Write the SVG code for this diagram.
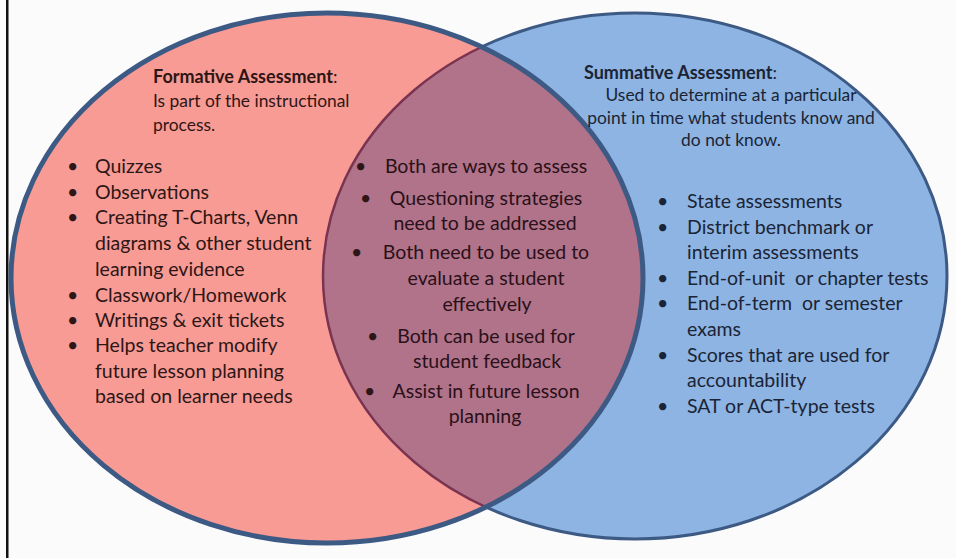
<svg xmlns="http://www.w3.org/2000/svg" width="956" height="558" viewBox="0 0 956 558">
<defs>
<style>
text{font-family:Lato,"Open Sans","Liberation Sans",sans-serif;font-size:19.5px}
.l{fill:#2e1616}
.c{fill:#2a1018;text-anchor:middle}
.r{fill:#1b2436}
.h{font-size:18px}
.d{font-size:17.4px}
.b{font-weight:bold}
.p{white-space:pre}
</style>
<clipPath id="clipR"><ellipse cx="635" cy="276" rx="312" ry="263"/></clipPath>
<clipPath id="clipL"><ellipse cx="327" cy="278" rx="316" ry="265"/></clipPath>
</defs>
<rect width="956" height="558" fill="#fbfbfb"/>
<rect x="6" y="0" width="2.5" height="558" fill="#111"/>
<g id="summative-circle">
<ellipse cx="635" cy="276" rx="312" ry="263" fill="#8db4e2" stroke="#3d5a85" stroke-width="3"/>
</g>
<g id="formative-circle">
<ellipse cx="327" cy="278" rx="316" ry="265" fill="#f89b94"/>
</g>
<g id="overlap">
<ellipse cx="327" cy="278" rx="316" ry="265" fill="#b0738a" clip-path="url(#clipR)"/>
<ellipse cx="635" cy="276" rx="312" ry="263" fill="none" stroke="#7a3350" stroke-width="2.5" clip-path="url(#clipL)"/>
</g>
<g id="connectors">
<ellipse cx="327" cy="278" rx="316" ry="265" fill="none" stroke="#3d5a85" stroke-width="5"/>
</g>
<g id="formative-text">
<text x="153" y="83" class="l h"><tspan class="b">Formative Assessment</tspan>:</text>
<text x="153" y="107" class="l d">Is part of the instructional</text>
<text x="153" y="131" class="l d">process.</text>
<text x="67" y="173" class="l">•</text><text x="95" y="173" class="l">Quizzes</text>
<text x="67" y="199" class="l">•</text><text x="95" y="199" class="l">Observations</text>
<text x="67" y="224" class="l">•</text><text x="95" y="224" class="l">Creating T-Charts, Venn</text>
<text x="95" y="250" class="l">diagrams &amp; other student</text>
<text x="95" y="276" class="l">learning evidence</text>
<text x="67" y="302" class="l">•</text><text x="95" y="302" class="l">Classwork/Homework</text>
<text x="67" y="327" class="l">•</text><text x="95" y="327" class="l">Writings &amp; exit tickets</text>
<text x="67" y="352" class="l">•</text><text x="95" y="352" class="l">Helps teacher modify</text>
<text x="95" y="378" class="l">future lesson planning</text>
<text x="95" y="403" class="l">based on learner needs</text>
</g>
<g id="both-text">
<text x="355" y="173" class="l">•</text><text x="486" y="173" class="c">Both are ways to assess</text>
<text x="360" y="205" class="l">•</text><text x="486" y="205" class="c">Questioning strategies</text>
<text x="485" y="230" class="c">need to be addressed</text>
<text x="351" y="259" class="l">•</text><text x="486" y="259" class="c">Both need to be used to</text>
<text x="486" y="285" class="c">evaluate a student</text>
<text x="487" y="311" class="c">effectively</text>
<text x="367" y="343" class="l">•</text><text x="486" y="343" class="c">Both can be used for</text>
<text x="487" y="368" class="c">student feedback</text>
<text x="364" y="398" class="l">•</text><text x="486" y="398" class="c">Assist in future lesson</text>
<text x="485" y="423" class="c">planning</text>
</g>
<g id="summative-text">
<text x="584" y="79" class="r h"><tspan class="b">Summative Assessment</tspan>:</text>
<text x="731" y="101" class="r d" text-anchor="middle">Used to determine at a particular</text>
<text x="731" y="124" class="r d" text-anchor="middle">point in time what students know and</text>
<text x="731" y="146" class="r d" text-anchor="middle">do not know.</text>
<text x="657" y="208" class="r">•</text><text x="687" y="208" class="r">State assessments</text>
<text x="657" y="234" class="r">•</text><text x="687" y="234" class="r">District benchmark or</text>
<text x="687" y="259" class="r">interim assessments</text>
<text x="657" y="285" class="r">•</text><text x="687" y="285" class="r p">End-of-unit  or chapter tests</text>
<text x="657" y="310" class="r">•</text><text x="687" y="310" class="r p">End-of-term  or semester</text>
<text x="687" y="336" class="r">exams</text>
<text x="657" y="362" class="r">•</text><text x="687" y="362" class="r">Scores that are used for</text>
<text x="687" y="387" class="r">accountability</text>
<text x="657" y="413" class="r">•</text><text x="687" y="413" class="r">SAT or ACT-type tests</text>
</g>
</svg>
